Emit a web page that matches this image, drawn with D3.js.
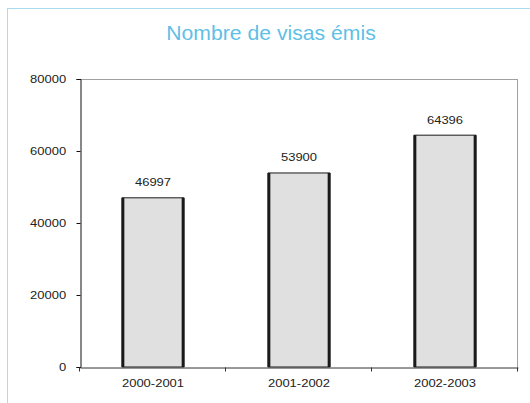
<!DOCTYPE html>
<html><head><meta charset="utf-8">
<script src="https://cdn.jsdelivr.net/npm/d3@7"></script>
<style>body{margin:0;background:#fff}svg{display:block}</style>
</head><body>
<script>
const categories = ["2000-2001", "2001-2002", "2002-2003"];
const values = [46997, 53900, 64396];
const yTicks = [0, 20000, 40000, 60000, 80000];
const title = "Nombre de visas émis";

const W = 530, H = 403;
const FONT = "Liberation Sans, Arial, sans-serif";
const FS = 10, SX = 1.3;
const svg = d3.select("body").append("svg").attr("width", W).attr("height", H);
svg.append("rect").attr("width", W).attr("height", H).attr("fill", "#fff");
// outer frame
svg.append("rect").attr("x", 7.5).attr("y", 8.5).attr("width", 540).attr("height", 420)
  .attr("fill", "none").attr("stroke", "#a9dcf0").attr("stroke-width", 1);

svg.append("text").attr("transform", "translate(271,40) scale(1.06,1)").attr("text-anchor", "middle")
  .attr("font-family", FONT).attr("font-size", 20)
  .attr("fill", "#5fbfe6").text(title);

const L = 80, R = 518, T = 79, B = 367;
const x = d3.scaleBand().domain(categories).range([L, R]).paddingInner(0).paddingOuter(0);
const y = d3.scaleLinear().domain([0, 80000]).range([B, T]);

// plot frame (top & right grey)
svg.append("line").attr("x1", L).attr("x2", R).attr("y1", T + 0.5).attr("y2", T + 0.5).attr("stroke", "#a0a0a0");
svg.append("line").attr("x1", R - 0.5).attr("x2", R - 0.5).attr("y1", T).attr("y2", B).attr("stroke", "#a0a0a0");

const bw = x.bandwidth() * 0.42;
const bars = svg.append("g");
categories.forEach((c, i) => {
  const cx = x(c) + x.bandwidth() / 2;
  const x0 = cx - bw / 2, x1 = cx + bw / 2, yt = y(values[i]);
  bars.append("rect").attr("x", x0).attr("y", yt).attr("width", bw).attr("height", B - yt)
    .attr("fill", "#e0e0e0").attr("stroke", "#1a1a1a").attr("stroke-width", 1);
  bars.append("line").attr("x1", x0 + 0.5).attr("x2", x0 + 0.5).attr("y1", yt).attr("y2", B).attr("stroke", "#1a1a1a").attr("stroke-width", 3);
  bars.append("line").attr("x1", x1 - 0.5).attr("x2", x1 - 0.5).attr("y1", yt).attr("y2", B).attr("stroke", "#1a1a1a").attr("stroke-width", 3);
  bars.append("text").attr("transform", `translate(${cx},${yt - 11.5}) scale(${SX},1)`).attr("text-anchor", "middle")
    .attr("font-family", FONT).attr("font-size", FS).attr("fill", "#222")
    .text(values[i]);
});

const yAxis = svg.append("g").attr("transform", `translate(${L + 0.5},0)`)
  .call(d3.axisLeft(y).tickValues(yTicks).tickSize(4).tickPadding(7).tickFormat(d3.format("d")));
yAxis.select(".domain").attr("stroke", "#111");
yAxis.selectAll(".tick line").attr("stroke", "#111");
yAxis.selectAll("text").attr("font-family", FONT).attr("font-size", FS).attr("fill", "#222")
  .attr("transform", `scale(${SX},1)`);

const xAxis = svg.append("g").attr("transform", `translate(0,${B + 0.5})`)
  .call(d3.axisBottom(x).tickSize(0).tickPadding(12));
xAxis.select(".domain").attr("stroke", "#333");
xAxis.selectAll(".tick text").attr("font-family", FONT).attr("font-size", FS).attr("fill", "#222")
  .attr("transform", `scale(${SX},1)`);
// category boundary ticks
const bounds = categories.map(c => x(c)).concat([R]);
xAxis.selectAll(".btick").data(bounds).enter().append("line").attr("class", "btick")
  .attr("x1", d => d - 0.5).attr("x2", d => d - 0.5).attr("y1", 0).attr("y2", 4).attr("stroke", "#333");
</script>
</body></html>
